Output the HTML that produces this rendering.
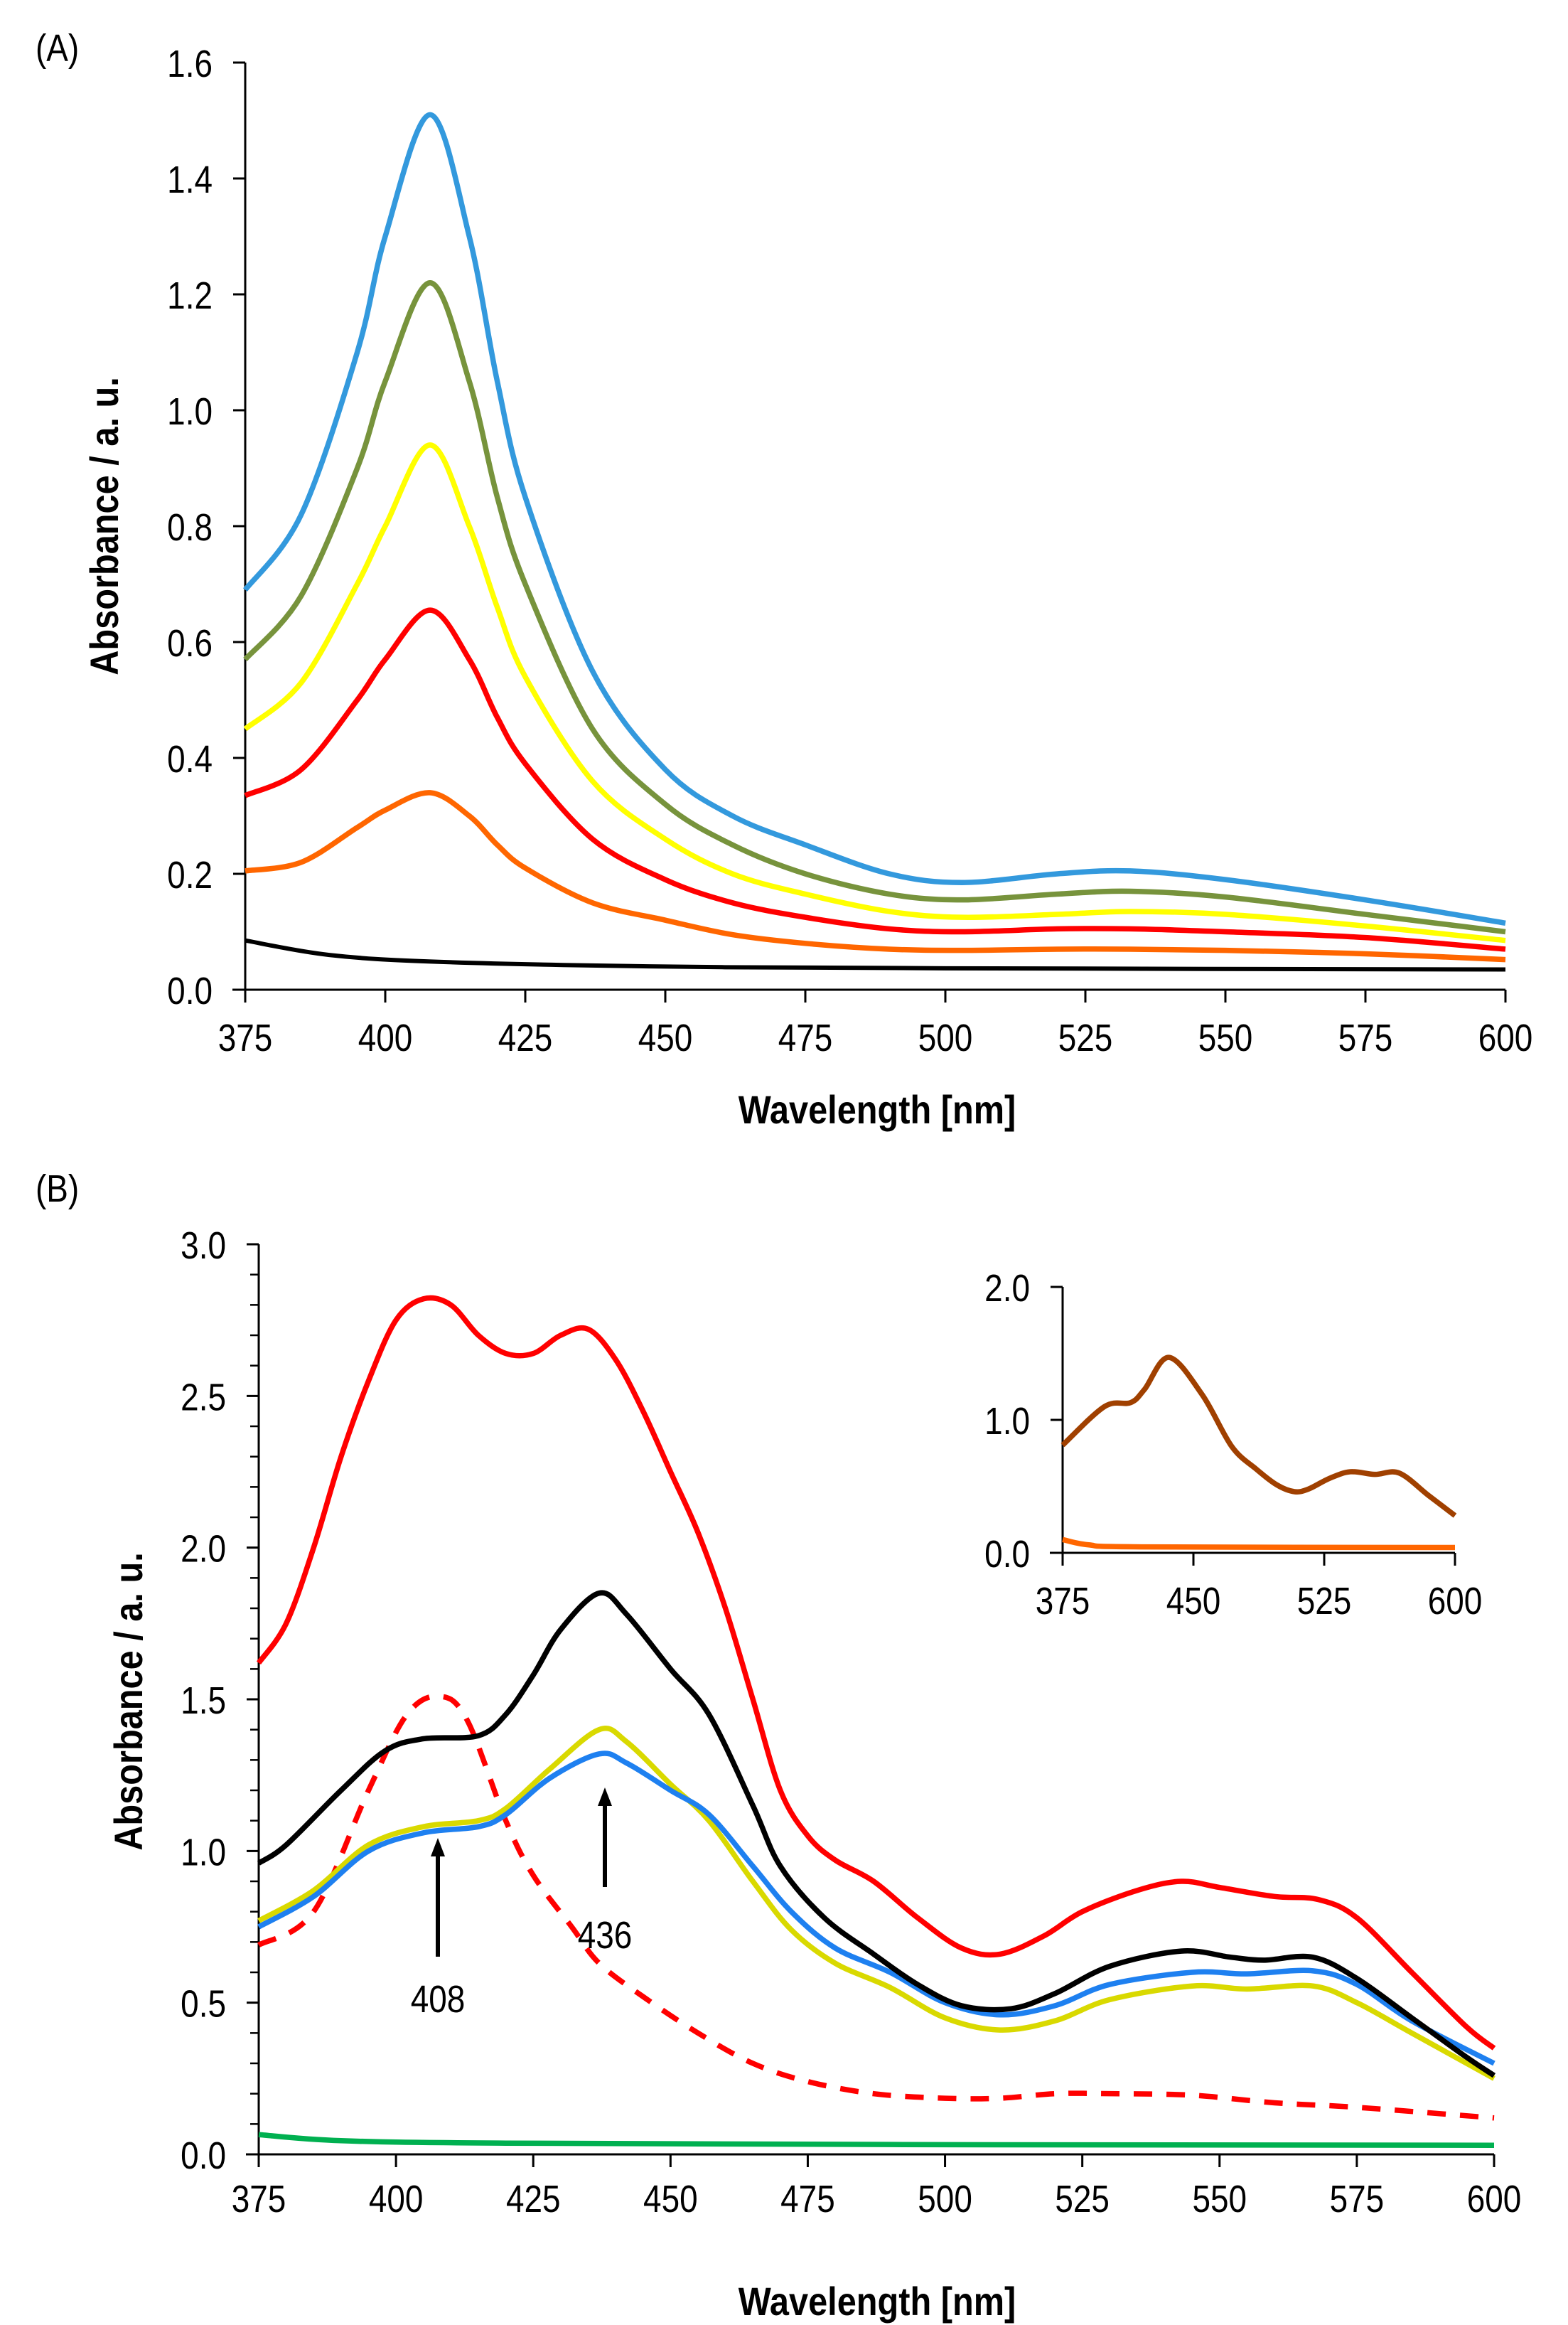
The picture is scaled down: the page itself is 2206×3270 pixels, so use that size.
<!DOCTYPE html>
<html><head><meta charset="utf-8"><style>
html,body{margin:0;padding:0;background:#fff}
svg{display:block}
text{font-family:"Liberation Sans",Arial,sans-serif;fill:#000}
.t{font-size:54px}
.b{font-size:56px;font-weight:bold}
</style></head><body>
<svg id="s" width="2206" height="3270" viewBox="0 0 2206 3270" xmlns="http://www.w3.org/2000/svg">
<text class="t" transform="translate(50,86) scale(0.85,1)">(A)</text>
<text class="t" transform="translate(50,1690) scale(0.85,1)">(B)</text>
<text class="b" text-anchor="middle" transform="translate(166,740) rotate(-90) scale(0.87,1)">Absorbance / a. u.</text>
<text class="b" text-anchor="middle" transform="translate(1234,1580) scale(0.87,1)">Wavelength [nm]</text>
<text class="b" text-anchor="middle" transform="translate(200,2393) rotate(-90) scale(0.87,1)">Absorbance / a. u.</text>
<text class="b" text-anchor="middle" transform="translate(1234,3256) scale(0.87,1)">Wavelength [nm]</text>
<g id="g"></g>
<text class="t" text-anchor="middle" transform="translate(616,2830) scale(0.85,1)">408</text>
<text class="t" text-anchor="middle" transform="translate(851,2740) scale(0.85,1)">436</text>
</svg>
<script>
var g=document.getElementById('g'),NS='http://www.w3.org/2000/svg';
function el(n,a){var e=document.createElementNS(NS,n);for(var k in a)e.setAttribute(k,a[k]);g.appendChild(e);return e;}
function txt(x,y,s,anchor){var e=el('text',{transform:'translate('+x+','+y+') scale(0.85,1)','class':'t','text-anchor':anchor});e.textContent=s;}
function chart(c){
 var X=function(l){return c.x0+(l-375)/225*(c.x1-c.x0)},Y=function(v){return c.y0-v/c.vmax*(c.y0-c.y1)};
 el('line',{x1:c.x0,y1:c.y1,x2:c.x0,y2:c.y0+18,stroke:'#000','stroke-width':3});
 el('line',{x1:c.x0-18,y1:c.y0,x2:c.x1,y2:c.y0,stroke:'#000','stroke-width':3});
 c.yt.forEach(function(v){el('line',{x1:c.x0-17,y1:Y(v),x2:c.x0,y2:Y(v),stroke:'#000','stroke-width':3});});
 (c.ym||[]).forEach(function(v){el('line',{x1:c.x0-12,y1:Y(v),x2:c.x0,y2:Y(v),stroke:'#000','stroke-width':2.5});});
 c.yl.forEach(function(v){txt(c.x0-c.lo,Y(v)+20,v.toFixed(1),'end');});
 c.xt.forEach(function(l){el('line',{x1:X(l),y1:c.y0,x2:X(l),y2:c.y0+18,stroke:'#000','stroke-width':3});txt(X(l),c.y0+c.xo,String(l),'middle');});
 c.s.forEach(function(s){
  var p=[];for(var i=0;i<s.d.length;i+=2)p.push([X(s.d[i]),Y(s.d[i+1])]);
  var d='M'+p[0][0]+','+p[0][1];
  for(var i=0;i<p.length-1;i++){var a=p[i-1]||p[i],b=p[i],cc=p[i+1],e=p[i+2]||cc;
   d+=' C'+(b[0]+(cc[0]-a[0])/6)+','+(b[1]+(cc[1]-a[1])/6)+' '+(cc[0]-(e[0]-b[0])/6)+','+(cc[1]-(e[1]-b[1])/6)+' '+cc[0]+','+cc[1];}
  var o={d:d,fill:'none',stroke:s.c,'stroke-width':s.w||7.5,'stroke-linejoin':'round'};if(s.da)o['stroke-dasharray']=s.da;el('path',o);
 });
}
var K=[375,385,395,400,408,415,420,425,437,450,462,475,490,503,520,533,550,575,600];
function z(v){var r=[];K.forEach(function(k,i){r.push(k,v[i]);});return r;}
chart({x0:345,x1:2118,y0:1392,y1:88,vmax:1.6,lo:46,xo:86,
 yt:[0,.2,.4,.6,.8,1,1.2,1.4,1.6],yl:[0,.2,.4,.6,.8,1,1.2,1.4,1.6],xt:[375,400,425,450,475,500,525,550,575,600],
 s:[{c:'#000',w:6,d:[375,.085,390,.06,410,.048,450,.04,500,.037,600,.035]},
 {c:'#ff6600',d:z([.205,.22,.28,.31,.34,.3,.25,.21,.15,.12,.095,.08,.07,.068,.07,.07,.068,.062,.052])},
 {c:'#ff0000',d:z([.335,.38,.5,.57,.655,.57,.47,.39,.26,.19,.15,.125,.105,.1,.105,.105,.1,.09,.07])},
 {c:'#ffff00',d:z([.45,.53,.7,.8,.94,.8,.66,.54,.36,.26,.2,.165,.135,.125,.13,.135,.13,.11,.085])},
 {c:'#77933c',d:z([.57,.68,.9,1.05,1.22,1.05,.85,.7,.45,.32,.25,.2,.165,.155,.165,.17,.16,.13,.1])},
 {c:'#3399dd',d:z([.69,.82,1.1,1.3,1.51,1.3,1.05,.85,.55,.38,.3,.25,.2,.185,.2,.205,.19,.155,.115])}]});
var ym=[];for(var i=1;i<30;i++)if(i%5)ym.push(i/10);
chart({x0:364,x1:2102,y0:3030,y1:1750,vmax:3,lo:46,xo:81,
 yt:[0,.5,1,1.5,2,2.5,3],ym:ym,yl:[0,.5,1,1.5,2,2.5,3],xt:[375,400,425,450,475,500,525,550,575,600],
 s:[{c:'#00b050',d:[375,.065,390,.045,420,.037,500,.032,600,.03]},
 {c:'#ff0000',da:'26 20',d:[375,.69,385,.8,395,1.2,402,1.45,408,1.51,413,1.43,420,1.1,425,.92,432,.75,437,.63,445,.52,455,.4,465,.3,475,.24,487,.2,500,.185,510,.185,520,.2,530,.2,545,.195,560,.17,575,.155,600,.12]},
 {c:'#d9d900',d:[375,.77,385,.87,395,1.02,405,1.08,415,1.1,420,1.14,428,1.27,437,1.4,442,1.36,450,1.22,457,1.1,465,.9,472,.74,480,.63,490,.55,500,.45,510,.41,520,.44,530,.51,545,.555,555,.545,567,.555,575,.5,585,.4,600,.25]},
 {c:'#1e80f0',d:[375,.75,385,.85,395,1.0,405,1.06,415,1.08,420,1.12,428,1.24,437,1.32,442,1.29,450,1.2,457,1.12,465,.95,472,.8,480,.68,490,.6,500,.5,510,.46,520,.49,530,.56,545,.6,555,.595,567,.605,575,.56,585,.44,600,.3]},
 {c:'#000',d:[375,.96,380,1.02,390,1.2,398,1.33,405,1.37,415,1.38,420,1.45,425,1.58,430,1.73,437,1.85,442,1.78,450,1.6,457,1.45,465,1.15,470,.95,478,.78,487,.66,495,.56,503,.49,512,.48,520,.53,530,.62,543,.67,552,.65,558,.64,567,.65,575,.58,585,.45,595,.32,600,.26]},
 {c:'#ff0000',d:[375,1.62,380,1.75,385,2.0,390,2.3,395,2.55,400,2.75,405,2.82,410,2.8,415,2.7,420,2.64,425,2.64,430,2.7,435,2.72,440,2.62,445,2.45,450,2.25,455,2.05,460,1.8,465,1.5,470,1.2,475,1.05,480,.97,487,.9,495,.78,503,.68,510,.66,518,.72,525,.8,535,.87,543,.9,550,.88,560,.85,568,.84,575,.78,585,.6,595,.42,600,.35]}]});
chart({x0:1495,x1:2047,y0:2184,y1:1810,vmax:2,lo:46,xo:86,
 yt:[0,1,2],yl:[0,1,2],xt:[375,450,525,600],
 s:[{c:'#ff6600',d:[375,.1,390,.06,420,.045,600,.04]},
 {c:'#a04000',d:[375,.81,399,1.1,414,1.13,422,1.23,436,1.47,455,1.19,472,.8,486,.63,498,.51,508,.46,516,.48,528,.56,540,.61,554,.59,568,.6,585,.43,600,.28]}]});
function arrow(x,y1,y2){el('line',{x1:x,y1:y2,x2:x,y2:y1+20,stroke:'#000','stroke-width':6});el('polygon',{points:(x-10)+','+(y1+26)+' '+(x+10)+','+(y1+26)+' '+x+','+y1,fill:'#000'});}
arrow(616,2585,2752);arrow(851,2514,2654);
</script>
</body></html>
